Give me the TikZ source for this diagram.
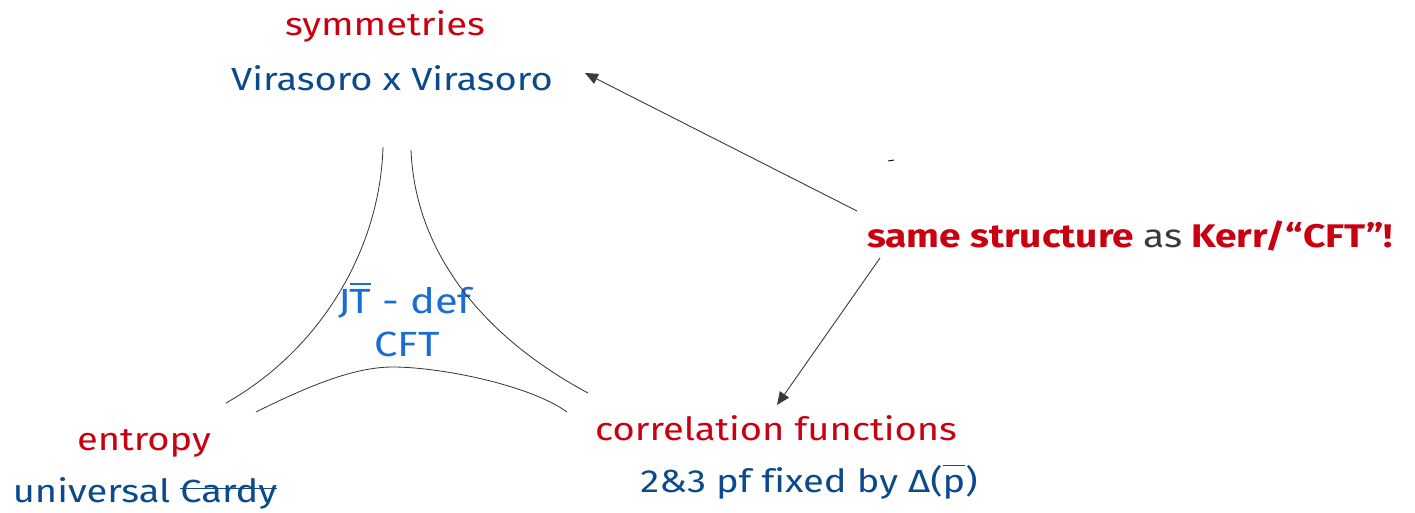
\documentclass[tikz,border=0pt]{standalone}
\usepackage{fontspec}
\setmainfont{Fira Sans}[FakeStretch=1.19,Ligatures=NoCommon]
\usetikzlibrary{arrows.meta}
\definecolor{cred}{HTML}{C9000F}
\definecolor{cdblue}{HTML}{0B4A8C}
\definecolor{clblue}{HTML}{1A6ED2}
\definecolor{cgray}{HTML}{3A3A3A}
\newcommand\myobar[1]{\leavevmode\setbox0\hbox{#1}\rlap{\raisebox{0.8em}{\rule{\wd0}{0.05em}}}\box0}
\newcommand\mystrike[1]{\leavevmode\setbox0\hbox{#1}\rlap{\raisebox{0.4em}{\rule{\wd0}{0.05em}}}\box0}
\begin{document}
\begin{tikzpicture}[x=1pt,y=-1pt,
  txt/.style={inner sep=0pt,anchor=base,font=\fontsize{32}{38}\selectfont},
  redt/.style={txt,text=cred},
  bluet/.style={txt,text=cdblue},
  lbluet/.style={txt,text=clblue,font=\fontsize{35}{40}\selectfont},
  arc/.style={draw=black!80,line width=0.8pt},
  arr/.style={draw=cgray,line width=0.9pt,-{Triangle[length=13pt,width=11pt]}}]
\useasboundingbox (0,0) rectangle (1415,512);
\node[redt] (sym) at (385,35) {symmetries};
\node[bluet] (vir) at (392,90) {Virasoro x Virasoro};
\node[lbluet] (jt) at (405,313) {J\kern-1pt\myobar{T}\ - def};
\node[lbluet] (cft) at (407,356) {CFT};
\node[redt] (ent) at (144,450) {entropy};
\node[bluet] (univ) at (145,502) {universal \mystrike{Cardy}};
\node[redt] (corr) at (776,440) {correlation functions};
\node[bluet] (pf) at (809,492) {2\&3 pf fixed by Δ(\myobar{p})};
\node[txt,font=\fontsize{32.7}{38}\selectfont\bfseries] (same) at (1130,247)
  {\textcolor{cred}{same structure} \textcolor{cgray}{\mdseries as} \textcolor{cred}{Kerr/“CFT”!}};
% curves
\draw[arc] (383,147) .. controls (380,250) and (320,350) .. (226,403);
\draw[arc] (411,150) .. controls (415,250) and (480,335) .. (588,393);
\draw[arc] (256,412) .. controls (320,380) and (360,367) .. (393,367)
  .. controls (440,367) and (530,385) .. (567,412);
% arrows
\coordinate (a1s) at (857,211);
\coordinate (a1e) at (585,73);
\coordinate (a2s) at (880,258);
\coordinate (a2e) at (777,405);
\draw[arr] (a1s) -- (a1e);
\draw[arr] (a2s) -- (a2e);
\coordinate (t1) at (888,161);
\coordinate (t2) at (894,160);
\draw[black,line width=0.9pt] (t1) -- (t2);
\end{tikzpicture}
\end{document}
